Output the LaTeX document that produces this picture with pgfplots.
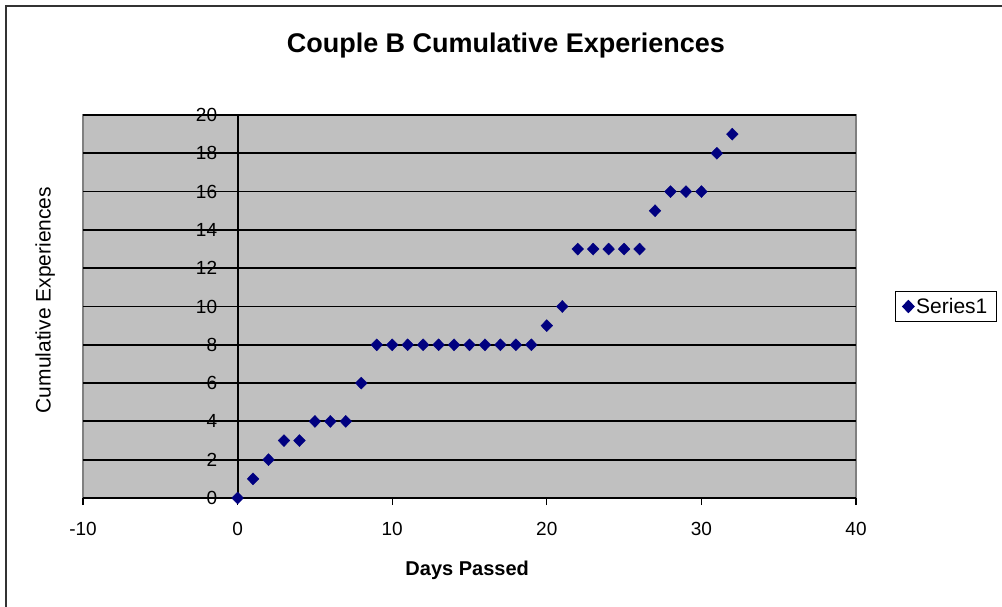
\documentclass[border=0pt]{standalone}
\usepackage{fontspec}
\setmainfont{Liberation Sans}
\usepackage{pgfplots}
\pgfplotsset{compat=1.18}
\definecolor{plotgray}{HTML}{C0C0C0}
\definecolor{bordergray}{HTML}{808080}
\definecolor{navyblue}{HTML}{000080}
\pgfplotstableread{
x y
0 0
1 1
2 2
3 3
4 3
5 4
6 4
7 4
8 6
9 8
10 8
11 8
12 8
13 8
14 8
15 8
16 8
17 8
18 8
19 8
20 9
21 10
22 13
23 13
24 13
25 13
26 13
27 15
28 16
29 16
30 16
31 18
32 19
}\datatable
\begin{document}
\begin{tikzpicture}
\useasboundingbox (0,0) rectangle (1002bp,607bp);
\fill[white] (0,0) rectangle (1002bp,607bp);
\draw[line width=2bp, black!80] (6bp,-10bp) -- (6bp,601bp) -- (1010bp,601bp);
\begin{axis}[
 scale only axis, width=773bp, height=383bp,
 at={(83bp,109bp)}, anchor=south west,
 xmin=-10, xmax=40, ymin=0, ymax=20,
 xtick={-10,0,...,40}, ytick={0,2,...,20},
 axis x line*=bottom, axis y line*=middle,
 hide obscured x ticks=false, hide obscured y ticks=false,
 axis background/.style={fill=plotgray, draw=bordergray, line width=1.5bp},
 axis line style={black, line width=2bp},
 ymajorgrids, major grid style={black, line width=1.8bp},
 tick style={black, line width=1.2bp},
 tick align=outside, xtick align=outside, ytick align=outside, major tick length=7bp,
 /pgf/number format/assume math mode=true,
 ticklabel style={font=\fontsize{19bp}{22bp}\selectfont},
 xticklabel style={yshift=-14bp},
 yticklabel shift=10bp,
 title={Couple B Cumulative Experiences},
 title style={at={(axis description cs:0.547,1.167)}, anchor=center, font=\bfseries\fontsize{27bp}{30bp}\selectfont},
 xlabel={Days Passed},
 ylabel={Cumulative Experiences},
 every axis x label/.style={at={(axis description cs:0.497,-0.188)}, anchor=center, font=\bfseries\fontsize{20bp}{24bp}\selectfont},
 every axis y label/.style={at={(axis description cs:-0.049,0.517)}, anchor=center, rotate=90, font=\fontsize{21bp}{24bp}\selectfont},
 legend style={at={(axis description cs:1.1164,0.5)}, anchor=center, draw=black, line width=1bp, fill=white, font=\fontsize{21bp}{24bp}\selectfont, inner xsep=7bp, inner ysep=5bp},
]
\addplot[only marks, mark=diamond*, mark size=6bp, color=navyblue, mark options={xscale=1.3}] table[x=x,y=y] {\datatable};
\addlegendentry{Series1}
\end{axis}
\end{tikzpicture}
\end{document}
